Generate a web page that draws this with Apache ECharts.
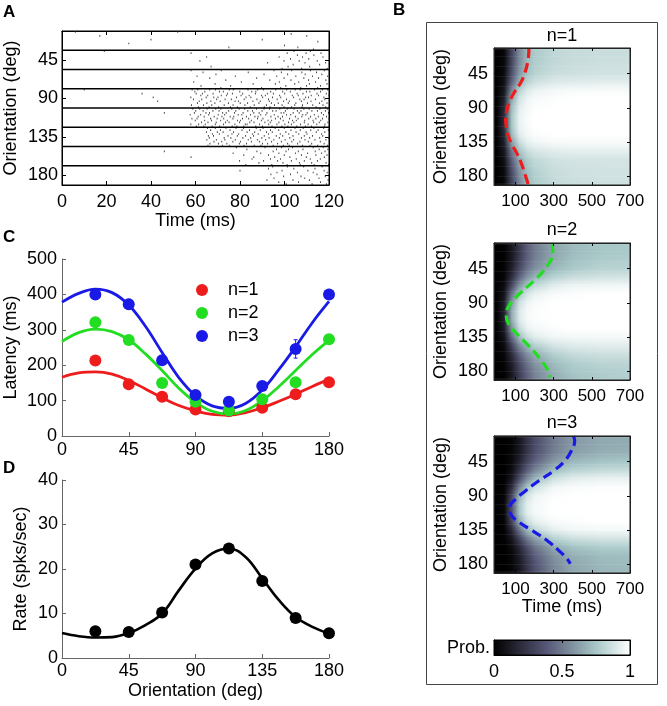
<!DOCTYPE html>
<html><head><meta charset="utf-8">
<script src="https://cdn.jsdelivr.net/npm/echarts@6/dist/echarts.min.js"></script>
<style>html,body{margin:0;padding:0;background:#fff}#c{width:667px;height:706px}</style>
</head><body><div id="c"></div>
<script>
// ---------------- DATA ----------------
const orientations = [22.5, 45, 67.5, 90, 112.5, 135, 157.5, 180];
const orientationTicks = [45, 90, 135, 180];
// Panel A raster: spike times (ms) per orientation row, per trial
const raster = [
  [[6,52],[103],[17,110],[],[40,90],[115],[30],[100],[75,106],[113]],
  [[19,104.3,111.6],[58,101.2,109.7,116.4],[105.8,113.2],[65,97.6,108.1,117.3],[102.7,110.9],[62,99.8,106.6,114.7],[92.4,109.2,118.5],[103.9,115.8],[67,101.6,111.3],[98.9,107.7,119.2]],
  [[58,71.6,95.3,103.2,111.7,117.9],[63.4,83.7,98.6,107.8,114.4],[69.2,90.8,101.4,109.3,116.8],[60.7,77.9,96.5,105.1,112.6,119.4],[66.4,87.5,99.8,108.7,115.3],[73.6,93.4,102.9,110.8,118.6],[59.2,80.6,97.7,106.4,113.9],[68.8,85.9,95.9,104.6,111.2,119.1],[62.5,75.8,100.6,109.9,116.2],[71.4,89.7,98.3,107.3,114.9]],
  [[10,58.5,61,66.4,69,75.2,77,83.6,88,90.5,96.1,101,104.8,107,113.5,117,119.4],[59.7,64.2,70.8,72.5,79.9,85.3,87.1,93.8,99.2,102.6,109.9,111.4,116.2],[36,60.3,63.1,67.9,74.4,76.6,81.2,86.9,92.3,95,100.1,105.7,108.3,114.6,118.8],[62.4,65.5,71.6,73.9,80.5,84.1,89.7,91.4,97.8,103.5,106.2,112,115.3,120],[41,57.9,64.8,68.2,70.1,78.4,82.7,84.9,90.2,94.6,98.3,104.1,109.5,110.8,117.7],[59.1,62.8,69.5,73.3,76.1,81.9,87.6,92.8,96.7,100.9,106.9,108.8,113.9,118.1],[43,61.7,66.9,71.1,77.8,79.3,85.8,89.1,93.2,99.6,102.2,107.6,111.9,116.8],[60.9,65.1,68.7,74.8,80.1,83.4,88.5,94.1,97.2,101.7,105.1,110.3,115.7,119.1],[58.2,63.6,67.3,72.9,76.9,82.2,86.4,91.9,95.5,98.9,104.6,108.1,112.7,117.3],[61.3,66.1,70.4,75.7,78.8,84.6,90.9,93.5,99.8,103.2,107.9,114.2,118.5]],
  [[58.8,61.9,65.2,69.1,71.4,76.3,79.6,82.1,87.4,90.8,93.3,97.9,101.2,104.3,108.7,111.1,115.9,119.2],[60.1,63.4,67.8,70.6,74.9,78.1,83.5,85.6,89.9,94.7,96.2,100.4,105.8,107.4,112.3,114.8,118.4],[46,59.5,64.7,66.3,72.2,73.8,77.5,81.4,86.2,88.6,92.1,98.5,99.7,103.9,106.6,110.2,116.6,119.8],[57.6,62.3,65.9,70.2,73.1,79.2,80.8,84.7,89.3,91.6,95.4,100.9,102.8,108.2,109.6,113.4,117.5],[61.2,63.9,68.4,71.9,75.6,77.2,82.9,86.7,88.1,93.9,97.1,99.1,104.9,107.8,111.7,115.2,118.9],[58.4,60.7,66.8,69.7,72.7,76.8,81.1,83.9,87.9,90.3,95.9,98.2,102.3,106.1,110.9,114.1,117.1,120],[59.9,64.1,67.2,71.3,74.3,78.9,80.2,85.1,89.6,92.6,94.2,99.4,103.6,105.3,109.1,112.8,116.3],[62.7,65.6,69.3,73.5,75.1,79.8,84.4,86.3,91.2,93.6,97.5,101.8,104.2,108.9,113.1,115.6,119.5],[57.9,61.4,64.4,68.9,72.6,77.7,82.4,83.2,88.8,92.9,96.6,100.2,103.1,107.2,110.6,114.5,118.2],[60.4,63.7,67.5,70.9,76.5,78.6,81.7,87.1,90.1,94.4,98.8,101.5,105.5,109.4,112.1,117.9]],
  [[65.4,68.9,73.7,78.2,81.6,87.3,90.4,95.8,99.9,104.7,108.4,113.2,117.6],[66.8,71.2,75.5,80.9,84.3,89.1,93.7,97.4,102.9,107.1,111.8,115.1,119.7],[64.9,69.8,72.4,77.1,83.2,86.6,91.9,94.5,100.6,105.2,109.7,114.3,118.1],[67.6,70.7,76.4,79.4,85.7,88.2,92.8,98.1,101.9,106.4,110.1,116.7],[65.8,68.1,74.6,78.8,82.5,86.1,90.9,96.3,99.2,103.8,108.9,112.6,117.2],[66.2,72.9,75.9,81.3,84.8,89.8,93.1,97.7,102.4,107.6,111.3,115.8,119.9],[65.1,69.4,73.2,77.9,83.7,87.8,91.5,95.2,100.3,104.1,109.2,113.7,118.6],[68.3,71.8,76.8,80.2,85.1,88.7,94.2,98.6,103.3,106.9,110.7,116.1],[66.5,70.3,74.1,79.7,82.9,90.1,92.4,96.9,101.4,105.9,112.2,117.8],[65.6,72.1,75.2,81.8,86.4,89.4,94.9,99.5,102.1,108.1,111.5,114.9,119.3]],
  [[78.4,91.2,98.7,103.6,112.9,117.4],[83.1,96.4,101.8,108.3,115.6,119.5],[46,87.6,94.9,100.7,106.2,113.8,118.2],[76.9,89.3,97.5,104.9,110.4,116.7],[81.7,92.8,99.9,107.6,114.1,119.1],[58,86.2,95.6,102.4,109.8,117.9],[85.4,93.7,98.2,105.3,111.6,116.1],[79.8,90.6,96.9,103.1,108.9,114.8],[88.5,99.3,106.7,112.2,118.7],[82.6,94.3,101.2,107.1,113.3,119.8]],
  [[94.7,101.3,108.6,116.9],[92.8,104.2,113.7],[80,98.9,110.5,117.8],[96.6,105.8,112.9,119.2],[93.9,102.7,114.6],[99.6,107.4,118.3],[95.3,109.1,115.5],[92.1,103.8,111.2,119.6],[97.4,106.3,116.2],[100.8,112.4,118.9]]
];
// Panel C: latency of n-th spike (ms)
const latencyN1 = [213, 146, 111, 75, 70, 80, 118, 152];
const latencyN2 = [321, 271, 150, 97, 72, 104, 152, 273];
const latencyN3 = [400, 372, 214, 116, 97, 141, 246, 400];
const latencyN3Err = [10, 14, 8, 6, 5, 6, 26, 14];
const fitOri = [0, 11.25, 22.5, 33.75, 45, 56.25, 67.5, 78.75, 90, 101.25, 112.5, 123.75, 135, 146.25, 157.5, 168.75, 180];
const fitN1 = [166, 178, 181, 175, 157, 133, 108, 86, 71, 61, 59, 66, 80, 98, 118, 140, 160];
const fitN2 = [267, 292, 302, 295, 272, 232, 185, 135, 95, 70, 62, 72, 100, 140, 185, 230, 270];
const fitN3 = [378, 403, 415, 405, 370, 310, 236, 165, 114, 85, 78, 92, 130, 188, 252, 320, 380];
// Panel D: firing rate
const rateObs = [6.0, 5.85, 10.2, 21.0, 24.6, 17.3, 9.0, 5.55];
const rateFit = [5.6, 4.9, 4.6, 4.7, 5.6, 7.4, 10.0, 15.2, 20.1, 23.5, 24.6, 22.7, 17.9, 13.0, 9.2, 7.0, 5.5];
// Panel B: probability maps (rows = orientation, columns = time)
const heatTimes = [0, 40, 80, 120, 160, 200, 300, 400, 550, 700];
const heatOri = [11.25, 22.5, 33.75, 45, 56.25, 67.5, 78.75, 90, 101.25, 112.5, 123.75, 135, 146.25, 157.5, 168.75, 180, 191.25];
const probN1 = [
  [0,0.03,0.30,0.55,0.70,0.77,0.82,0.84,0.85,0.85],
  [0,0.03,0.30,0.55,0.70,0.77,0.82,0.84,0.85,0.85],
  [0,0.04,0.32,0.57,0.71,0.78,0.83,0.85,0.86,0.86],
  [0,0.05,0.35,0.60,0.74,0.80,0.85,0.86,0.87,0.87],
  [0,0.07,0.42,0.68,0.80,0.86,0.90,0.91,0.92,0.92],
  [0,0.10,0.55,0.80,0.90,0.94,0.97,0.98,0.98,0.98],
  [0,0.14,0.65,0.88,0.95,0.98,0.99,1,1,1],
  [0,0.18,0.72,0.92,0.97,0.99,1,1,1,1],
  [0,0.20,0.75,0.94,0.98,1,1,1,1,1],
  [0,0.20,0.75,0.94,0.98,1,1,1,1,1],
  [0,0.18,0.72,0.92,0.97,0.99,1,1,1,1],
  [0,0.14,0.62,0.85,0.93,0.96,0.98,0.98,0.98,0.98],
  [0,0.10,0.50,0.75,0.85,0.89,0.92,0.93,0.93,0.93],
  [0,0.07,0.42,0.66,0.78,0.83,0.87,0.88,0.88,0.88],
  [0,0.05,0.36,0.60,0.74,0.80,0.85,0.86,0.87,0.87],
  [0,0.04,0.32,0.56,0.71,0.78,0.84,0.86,0.87,0.87],
  [0,0.03,0.30,0.54,0.70,0.77,0.83,0.85,0.86,0.86]
];
const probN2 = [
  [0,0.01,0.10,0.25,0.40,0.50,0.64,0.71,0.75,0.76],
  [0,0.01,0.10,0.25,0.40,0.50,0.64,0.71,0.75,0.76],
  [0,0.01,0.11,0.27,0.42,0.52,0.66,0.73,0.77,0.78],
  [0,0.02,0.14,0.32,0.47,0.57,0.70,0.76,0.80,0.80],
  [0,0.03,0.20,0.42,0.58,0.68,0.80,0.85,0.87,0.88],
  [0,0.05,0.32,0.58,0.74,0.83,0.92,0.95,0.96,0.96],
  [0,0.08,0.48,0.75,0.88,0.94,0.98,0.99,1,1],
  [0,0.12,0.60,0.86,0.95,0.98,1,1,1,1],
  [0,0.14,0.66,0.90,0.97,0.99,1,1,1,1],
  [0,0.14,0.66,0.90,0.97,0.99,1,1,1,1],
  [0,0.12,0.58,0.84,0.94,0.97,0.99,1,1,1],
  [0,0.08,0.45,0.72,0.86,0.92,0.96,0.97,0.97,0.97],
  [0,0.05,0.30,0.55,0.70,0.79,0.88,0.91,0.92,0.92],
  [0,0.03,0.20,0.42,0.57,0.67,0.79,0.84,0.86,0.86],
  [0,0.02,0.14,0.33,0.48,0.59,0.72,0.78,0.81,0.81],
  [0,0.01,0.11,0.28,0.43,0.54,0.68,0.75,0.78,0.79],
  [0,0.01,0.10,0.26,0.41,0.52,0.66,0.73,0.77,0.78]
];
const probN3 = [
  [0,0,0.02,0.10,0.22,0.33,0.50,0.60,0.65,0.66],
  [0,0,0.02,0.10,0.22,0.33,0.50,0.60,0.65,0.66],
  [0,0,0.03,0.11,0.24,0.35,0.52,0.62,0.67,0.68],
  [0,0,0.04,0.15,0.30,0.42,0.60,0.70,0.74,0.75],
  [0,0,0.06,0.22,0.40,0.53,0.72,0.80,0.83,0.84],
  [0,0.01,0.10,0.34,0.55,0.69,0.86,0.92,0.94,0.94],
  [0,0.01,0.20,0.52,0.74,0.86,0.96,0.98,0.99,0.99],
  [0,0.02,0.30,0.68,0.87,0.95,0.99,1,1,1],
  [0,0.03,0.36,0.75,0.92,0.97,1,1,1,1],
  [0,0.03,0.36,0.75,0.92,0.97,1,1,1,1],
  [0,0.02,0.30,0.66,0.85,0.93,0.98,0.99,1,1],
  [0,0.01,0.18,0.48,0.70,0.82,0.93,0.96,0.97,0.97],
  [0,0.01,0.10,0.30,0.50,0.63,0.80,0.86,0.88,0.88],
  [0,0,0.05,0.18,0.35,0.48,0.66,0.74,0.78,0.78],
  [0,0,0.03,0.13,0.27,0.40,0.58,0.67,0.71,0.72],
  [0,0,0.03,0.11,0.24,0.36,0.55,0.65,0.70,0.71],
  [0,0,0.02,0.10,0.23,0.35,0.54,0.64,0.69,0.70]
];
// Panel B dashed latency curves (time ms, orientation deg)
const bLatN1 = [170, 166, 149, 127, 92, 66, 54, 48, 52, 62, 80, 109, 132, 149, 166];
const bOriN1 = [11.25, 26.5, 43.9, 57, 70, 83, 94, 105, 115.8, 126.7, 137.6, 150.7, 163.8, 176.8, 189.9];
const bLatN2 = [291, 296, 265, 204, 126, 70, 51, 60, 100, 169, 230, 265, 282];
const bOriN2 = [11.25, 24.3, 41.8, 59.2, 76.6, 91.9, 104.9, 115.8, 128.9, 146.3, 163.8, 176.8, 187.7];
const bLatN3 = [404, 410, 392, 358, 300, 222, 153, 101, 69, 74, 118, 187, 265, 326, 370, 387];
const bOriN3 = [11.25, 17.8, 30.9, 43.9, 57, 70, 83.1, 94, 104.9, 113.6, 124.5, 135.4, 148.5, 161.6, 172.5, 179];
const heatTimeTicks = [100, 300, 500, 700];
const colorbarTicks = [0, 0.5, 1];

// ---------------- STYLE HELPERS ----------------
const FF = '"Liberation Sans", Arial, Helvetica, sans-serif';
const RED = '#ee1c1c', GREEN = '#22dd22', BLUE = '#1a1ae6';
const H_XMIN = -13, H_XMAX = 700, O_MIN = 11.25, O_MAX = 191.25;

// MATLAB "bone" colormap sampled at k/8
const BONE = [[0,0,0],[28,28,39],[56,56,77],[84,84,116],[112,122,143],[139,161,171],[167,199,199],[211,227,227],[255,255,255]];
function bone(v) {
  v = Math.max(0, Math.min(1, v)) * 8;
  const i = Math.min(7, Math.floor(v)), f = v - i;
  const a = BONE[i], b = BONE[i + 1];
  return 'rgb(' + a.map((c, k) => Math.round(c + (b[k] - c) * f)).join(',') + ')';
}

function axis(base, extra) {
  const o = Object.assign({
    type: 'value', splitLine: { show: false },
    axisLine: { show: true, onZero: false, lineStyle: { color: '#000', width: 1 } },
    axisTick: { show: true, inside: true, length: 4, lineStyle: { color: '#000' } },
    axisLabel: { color: '#000', fontSize: 18, fontFamily: FF },
    nameTextStyle: { color: '#000', fontSize: 18, fontFamily: FF },
    nameLocation: 'middle', nameMoveOverlap: false
  }, base);
  if (extra) {
    for (const k in extra) {
      if (o[k] && typeof o[k] === 'object' && !Array.isArray(o[k])) o[k] = Object.assign({}, o[k], extra[k]);
      else o[k] = extra[k];
    }
  }
  return o;
}

// ---------------- GRIDS ----------------
const heatTops = [48, 243, 436];
const grids = [
  { left: 62, top: 31, width: 267, height: 154 },
  { left: 62, top: 259, width: 267, height: 177 },
  { left: 62, top: 480, width: 267, height: 178 },
  { left: 494, top: heatTops[0], width: 136, height: 137 },
  { left: 494, top: heatTops[1], width: 136, height: 137 },
  { left: 494, top: heatTops[2], width: 136, height: 137 },
  { left: 494, top: 640, width: 136, height: 15 }
].map(g => Object.assign({ outerBoundsMode: 'none', containLabel: false }, g));

const GRAY = '#666';
const xAxes = [
  axis({ gridIndex: 0, min: 0, max: 120, interval: 20, name: 'Time (ms)', nameGap: 27 }, { axisLabel: { margin: 8 } }),
  axis({ gridIndex: 0, min: 0, max: 120, interval: 20, position: 'top' }, { axisLabel: { show: false } }),
  axis({ gridIndex: 1, min: 0, max: 180, interval: 45 }, { axisLine: { lineStyle: { color: GRAY } }, axisTick: { lineStyle: { color: GRAY } }, axisLabel: { margin: 5 } }),
  axis({ gridIndex: 2, min: 0, max: 180, interval: 45, name: 'Orientation (deg)', nameGap: 24 }, { axisLine: { lineStyle: { color: GRAY } }, axisTick: { lineStyle: { color: GRAY } }, axisLabel: { margin: 4 } })
];
for (let p = 0; p < 3; p++) {
  xAxes.push(axis({ gridIndex: 3 + p, min: H_XMIN, max: H_XMAX, z: 5, name: p === 2 ? 'Time (ms)' : '', nameGap: 25 },
    { axisLine: { lineStyle: { color: '#222' } }, axisTick: { customValues: heatTimeTicks, length: 3 }, axisLabel: { customValues: heatTimeTicks, fontSize: 17, margin: 8 } }));
}
for (let p = 0; p < 3; p++) {
  xAxes.push(axis({ gridIndex: 3 + p, min: H_XMIN, max: H_XMAX, z: 5, position: 'top' },
    { axisLine: { lineStyle: { color: '#222' } }, axisTick: { customValues: heatTimeTicks, length: 3 }, axisLabel: { show: false } }));
}
// index 10: colorbar bottom, 11: colorbar top
xAxes.push(axis({ gridIndex: 6, min: 0, max: 1, z: 5 }, { axisTick: { show: false }, axisLabel: { customValues: colorbarTicks, margin: 8 } }));
xAxes.push(axis({ gridIndex: 6, min: 0, max: 1, z: 5, position: 'top' }, { axisTick: { customValues: [0.5], length: 3 }, axisLabel: { show: false } }));

const yAxes = [
  axis({ gridIndex: 0, min: O_MIN, max: O_MAX, inverse: true, name: 'Orientation (deg)', nameGap: 42 },
    { axisTick: { customValues: orientationTicks }, axisLabel: { customValues: orientationTicks, margin: 4 } }),
  axis({ gridIndex: 0, min: O_MIN, max: O_MAX, inverse: true, position: 'right' },
    { axisTick: { customValues: orientationTicks }, axisLabel: { show: false } }),
  axis({ gridIndex: 1, min: 0, max: 500, interval: 100, name: 'Latency (ms)', nameGap: 42 },
    { axisLine: { lineStyle: { color: GRAY } }, axisTick: { lineStyle: { color: GRAY } }, axisLabel: { margin: 5 } }),
  axis({ gridIndex: 2, min: 0, max: 40, interval: 10, name: 'Rate (spks/sec)', nameGap: 32 },
    { axisLine: { lineStyle: { color: GRAY } }, axisTick: { lineStyle: { color: GRAY } }, axisLabel: { margin: 4 } })
];
for (let p = 0; p < 3; p++) {
  yAxes.push(axis({ gridIndex: 3 + p, min: O_MIN, max: O_MAX, inverse: true, z: 5, name: 'Orientation (deg)', nameGap: 44 },
    { axisLine: { lineStyle: { color: '#222' } }, axisTick: { customValues: orientationTicks, length: 3 }, axisLabel: { customValues: orientationTicks, margin: 6 } }));
}
for (let p = 0; p < 3; p++) {
  yAxes.push(axis({ gridIndex: 3 + p, min: O_MIN, max: O_MAX, inverse: true, z: 5, position: 'right' },
    { axisLine: { lineStyle: { color: '#222' } }, axisTick: { customValues: orientationTicks, length: 3 }, axisLabel: { show: false } }));
}
// index 10: colorbar left, 11: colorbar right
yAxes.push(axis({ gridIndex: 6, min: 0, max: 1, z: 5 }, { axisTick: { show: false }, axisLabel: { show: false } }));
yAxes.push(axis({ gridIndex: 6, min: 0, max: 1, z: 5, position: 'right' }, { axisTick: { show: false }, axisLabel: { show: false } }));

// ---------------- SERIES ----------------
const series = [];
// A: raster spikes
const spikes = [];
raster.forEach((row, r) => row.forEach((trial, k) => trial.forEach(t => {
  spikes.push([t, orientations[r] - 11.25 + (k + 0.5) * 2.25]);
})));
series.push({ type: 'scatter', xAxisIndex: 0, yAxisIndex: 0, data: spikes, symbol: 'rect', symbolSize: [1, 1.7],
  itemStyle: { color: '#4a4a4a', opacity: 1 }, silent: true, z: 2 });
// A: row separators (midpoints between orientation rows)
const separators = orientations.slice(0, -1).map((o, i) => (o + orientations[i + 1]) / 2);
series.push({ type: 'custom', xAxisIndex: 0, yAxisIndex: 0, data: separators.map(s => [0, s]), silent: true, z: 3,
  renderItem: (params, api) => {
    const a = api.coord([0, api.value(1)]), b = api.coord([120, api.value(1)]);
    return { type: 'line', shape: { x1: a[0], y1: a[1], x2: b[0], y2: b[1] }, style: { stroke: '#000', lineWidth: 1.6 } };
  } });

// plot frames (box) drawn through each grid's own axes
function frame(xi, yi, x0, x1, y0, y1, color) {
  return { type: 'custom', xAxisIndex: xi, yAxisIndex: yi, data: [[x0, y0]], silent: true, z: 20,
    renderItem: (params, api) => {
      const a = api.coord([x0, y0]), b = api.coord([x1, y1]);
      return { type: 'rect', shape: { x: Math.min(a[0], b[0]), y: Math.min(a[1], b[1]), width: Math.abs(b[0] - a[0]), height: Math.abs(b[1] - a[1]) },
        style: { fill: 'none', stroke: color, lineWidth: 1 } };
    } };
}
series.push(frame(0, 0, 0, 120, O_MIN, O_MAX, '#000'));
for (let p = 0; p < 3; p++) series.push(frame(4 + p, 4 + p, H_XMIN, H_XMAX, O_MIN, O_MAX, '#222'));
series.push(frame(10, 10, 0, 1, 0, 1, '#000'));

// C: fits + points
const fitSets = [[fitN1, RED], [fitN2, GREEN], [fitN3, BLUE]];
fitSets.forEach(([f, c], i) => series.push({ type: 'line', name: 'fit' + (i + 1), xAxisIndex: 2, yAxisIndex: 2,
  data: fitOri.map((o, j) => [o, f[j]]), smooth: 0.4, symbol: 'none', lineStyle: { color: c, width: 2.8 }, silent: true, z: 3 }));
series.push({ type: 'custom', xAxisIndex: 2, yAxisIndex: 2, silent: true, z: 4,
  data: orientations.map((o, i) => [o, latencyN3[i] - latencyN3Err[i], latencyN3[i] + latencyN3Err[i]]),
  renderItem: (params, api) => {
    const lo = api.coord([api.value(0), api.value(1)]), hi = api.coord([api.value(0), api.value(2)]);
    const st = { stroke: BLUE, lineWidth: 1 };
    return { type: 'group', children: [
      { type: 'line', shape: { x1: lo[0], y1: lo[1], x2: hi[0], y2: hi[1] }, style: st },
      { type: 'line', shape: { x1: lo[0] - 2, y1: lo[1], x2: lo[0] + 2, y2: lo[1] }, style: st },
      { type: 'line', shape: { x1: hi[0] - 2, y1: hi[1], x2: hi[0] + 2, y2: hi[1] }, style: st }
    ] };
  } });
[[latencyN1, RED, 'n=1'], [latencyN2, GREEN, 'n=2'], [latencyN3, BLUE, 'n=3']].forEach(([d, c, n]) => series.push({
  type: 'scatter', name: n, xAxisIndex: 2, yAxisIndex: 2, data: orientations.map((o, i) => [o, d[i]]),
  symbol: 'circle', symbolSize: 12, itemStyle: { color: c, opacity: 1 }, silent: true, z: 5 }));

// D
series.push({ type: 'line', xAxisIndex: 3, yAxisIndex: 3, data: fitOri.map((o, j) => [o, rateFit[j]]), smooth: 0.4,
  symbol: 'none', lineStyle: { color: '#000', width: 2.6 }, silent: true, z: 3 });
series.push({ type: 'scatter', xAxisIndex: 3, yAxisIndex: 3, data: orientations.map((o, i) => [o, rateObs[i]]),
  symbol: 'circle', symbolSize: 12, itemStyle: { color: '#000', opacity: 1 }, silent: true, z: 4 });

// B heatmaps: each orientation row is drawn as a horizontal gradient; within a row's cell the
// colour is shaded toward the neighbouring rows (like MATLAB's interpolated shading).
const SUB = 6;
function heatRender(prob) {
  return (params, api) => {
    const i = params.dataIndex, ori = heatOri[i], step = 11.25;
    const children = [];
    for (let s = 0; s < SUB; s++) {
      const a0 = ori - step / 2 + s * step / SUB, a1 = a0 + step / SUB, mid = (a0 + a1) / 2;
      const lo = Math.max(a0, O_MIN), hi = Math.min(a1, O_MAX);
      if (hi <= lo) continue;
      let j = mid < ori ? i - 1 : i + 1;
      const f = Math.abs(mid - ori) / step;
      const other = (j >= 0 && j < prob.length) ? prob[j] : prob[i];
      const vals = prob[i].map((v, k) => v * (1 - f) + other[k] * f);
      const p0 = api.coord([H_XMIN, lo]), p1 = api.coord([H_XMAX, hi]);
      const stops = [{ offset: 0, color: bone(vals[0]) }].concat(
        heatTimes.map((t, k) => ({ offset: (t - H_XMIN) / (H_XMAX - H_XMIN), color: bone(vals[k]) })));
      const y0 = Math.min(p0[1], p1[1]), h = Math.abs(p1[1] - p0[1]);
      children.push({ type: 'rect', shape: { x: Math.min(p0[0], p1[0]), y: y0 - 0.3, width: Math.abs(p1[0] - p0[0]), height: h + 0.6 },
        style: { fill: new echarts.graphic.LinearGradient(0, 0, 1, 0, stops) } });
    }
    return { type: 'group', children };
  };
}
const heatSets = [[probN1, bLatN1, bOriN1, RED], [probN2, bLatN2, bOriN2, GREEN], [probN3, bLatN3, bOriN3, BLUE]];
heatSets.forEach(([prob, lat, ori, c], p) => {
  series.push({ type: 'custom', xAxisIndex: 4 + p, yAxisIndex: 4 + p, data: heatOri.map(o => [H_XMIN, o]),
    renderItem: heatRender(prob), silent: true, z: 1 });
  series.push({ type: 'line', xAxisIndex: 4 + p, yAxisIndex: 4 + p, data: lat.map((t, j) => [t, ori[j]]), smooth: 0.4,
    symbol: 'none', lineStyle: { color: c, width: 3.2, type: [10, 5] }, silent: true, z: 3 });
});
// colorbar
series.push({ type: 'custom', xAxisIndex: 10, yAxisIndex: 10, data: [[0, 0]], silent: true, z: 1,
  renderItem: (params, api) => {
    const a = api.coord([0, 0]), b = api.coord([1, 1]);
    const stops = BONE.map((c, k) => ({ offset: k / 8, color: 'rgb(' + c.join(',') + ')' }));
    return { type: 'rect', shape: { x: a[0], y: b[1], width: b[0] - a[0], height: a[1] - b[1] },
      style: { fill: new echarts.graphic.LinearGradient(0, 0, 1, 0, stops) } };
  } });

// ---------------- GRAPHICS (labels, frame) ----------------
const txt = (s, x, y, o) => Object.assign({ type: 'text', x, y, silent: true,
  style: Object.assign({ text: s, fill: '#000', fontSize: 18, fontFamily: FF }, o || {}) });
const graphic = [
  { type: 'rect', shape: { x: 426.5, y: 22.5, width: 231, height: 662 }, style: { fill: 'none', stroke: '#444', lineWidth: 1 }, silent: true },
  txt('A', 3, 4, { fontSize: 17, fontWeight: 'bold' }),
  txt('B', 393, 2, { fontSize: 17, fontWeight: 'bold' }),
  txt('C', 3, 229, { fontSize: 17, fontWeight: 'bold' }),
  txt('D', 3, 460, { fontSize: 17, fontWeight: 'bold' }),
  txt('n=1', 562, 36, { align: 'center', verticalAlign: 'middle' }),
  txt('n=2', 562, 230, { align: 'center', verticalAlign: 'middle' }),
  txt('n=3', 562, 423, { align: 'center', verticalAlign: 'middle' }),
  txt('Prob.', 490, 648, { align: 'right', verticalAlign: 'middle' })
];

const chart = echarts.init(document.getElementById('c'), null, { renderer: 'canvas' });
chart.setOption({
  animation: false,
  backgroundColor: '#fff',
  textStyle: { fontFamily: FF },
  grid: grids,
  xAxis: xAxes,
  yAxis: yAxes,
  legend: {
    data: ['n=1', 'n=2', 'n=3'], orient: 'vertical', left: 191, top: 276, itemWidth: 12, itemHeight: 12, itemGap: 5,
    selectedMode: false, textStyle: { fontSize: 18, fontFamily: FF, color: '#000', lineHeight: 18, padding: [0, 0, 0, 15] }
  },
  series: series,
  graphic: graphic
});
</script>
</body></html>
